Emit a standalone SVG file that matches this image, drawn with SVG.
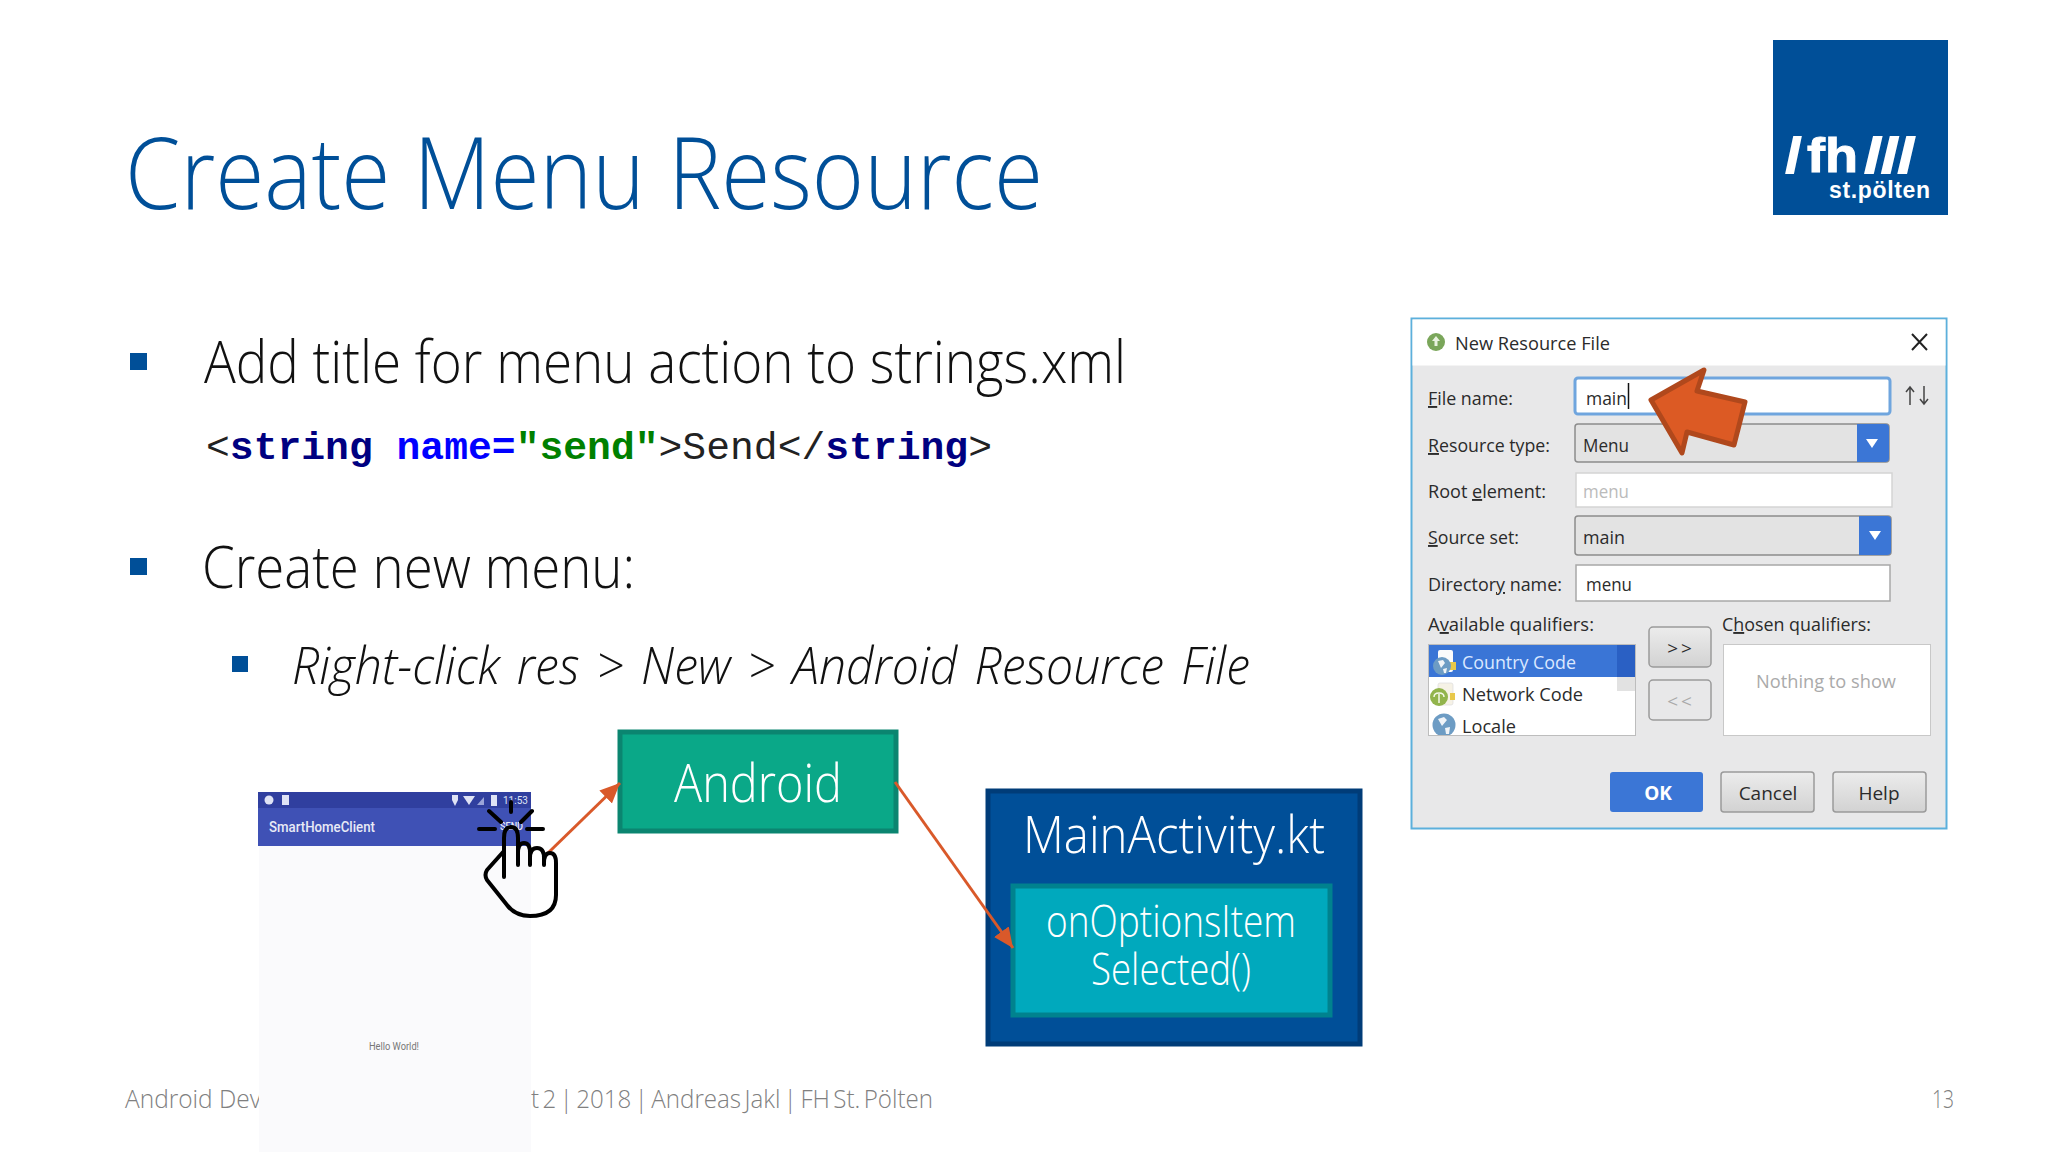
<svg xmlns="http://www.w3.org/2000/svg" width="2048" height="1152" viewBox="0 0 2048 1152">
<style>
.l{font-family:"Open Sans","Noto Sans",sans-serif;font-weight:300}
.d{font-family:"Open Sans","Noto Sans",sans-serif;font-size:19px;fill:#2b2b2b}
.bl{fill:#004f98}
.m{font-family:"Liberation Mono",monospace;font-size:39.7px}
.b{font-weight:700}
.u{text-decoration:underline}
.in{fill:#fff;stroke:#a8a8a8;stroke-width:1.5}
.cb{fill:#e3e3e3;stroke:#8c8c8c;stroke-width:1.5}
.bt{fill:url(#g);stroke:#9a9a9a;stroke-width:1.5}
.btn{fill:#3b76d6}
.conn{fill:none;stroke:#d9592a;stroke-width:3}
.hand{fill:none;stroke:#000;stroke-width:4;stroke-linecap:round;stroke-linejoin:round}
</style>
<defs>
<linearGradient id="g" x1="0" y1="0" x2="0" y2="1"><stop offset="0" stop-color="#ececec"/><stop offset="1" stop-color="#d2d2d2"/></linearGradient>
<marker id="arr" markerUnits="userSpaceOnUse" markerWidth="22" markerHeight="22" refX="20" refY="9" orient="auto"><path d="M0 0L20 9L0 18Z" fill="#d9592a"/></marker>
<clipPath id="lc"><rect x="1429" y="645" width="205" height="90"/></clipPath>
</defs>
<rect width="2048" height="1152" fill="#fff"/>
<text id="title" class="l" x="125" y="209" font-size="100" fill="#004f98" textLength="918" lengthAdjust="spacingAndGlyphs">Create Menu Resource</text>
<g id="logo">
<rect x="1773" y="40" width="175" height="175" class="bl"/>
<text x="1786" y="172" font-family="Liberation Sans,sans-serif" font-weight="700" font-size="48" fill="#fff" stroke="#fff" stroke-width="2" textLength="15" lengthAdjust="spacingAndGlyphs">/</text>
<text x="1807" y="172" font-family="Liberation Sans,sans-serif" font-weight="700" font-size="48" fill="#fff" stroke="#fff" stroke-width="1" textLength="51" lengthAdjust="spacingAndGlyphs">fh</text>
<text x="1865" y="172" font-family="Liberation Sans,sans-serif" font-weight="700" font-size="48" fill="#fff" stroke="#fff" stroke-width="2" textLength="50" lengthAdjust="spacingAndGlyphs">///</text>
<text x="1829" y="198" font-family="Liberation Sans,sans-serif" font-weight="700" font-size="23" fill="#fff" letter-spacing="1" textLength="102" lengthAdjust="spacing">st.pölten</text>
</g>
<g id="bullets">
<rect x="130" y="353" width="17" height="17" class="bl"/>
<text class="l" x="204" y="383" font-size="58" fill="#111" textLength="922" lengthAdjust="spacingAndGlyphs">Add title for menu action to strings.xml</text>
<text class="m" x="206" y="459" fill="#222">&lt;<tspan class="b" fill="#000080">string </tspan><tspan class="b" fill="#0000ff">name=</tspan><tspan class="b" fill="#008000">"send"</tspan>&gt;Send&lt;/<tspan class="b" fill="#000080">string</tspan>&gt;</text>
<rect x="130" y="558" width="17" height="17" class="bl"/>
<text class="l" x="202" y="588" font-size="58" fill="#111" textLength="433" lengthAdjust="spacingAndGlyphs">Create new menu:</text>
<rect x="232" y="656" width="16" height="16" class="bl"/>
<text class="l" x="292" y="684" font-size="52" font-style="italic" fill="#111" word-spacing="5" textLength="958" lengthAdjust="spacingAndGlyphs">Right-click res &gt; New &gt; Android Resource File</text>
</g>
<g id="footer">
<text class="l" x="125" y="1108" font-size="26" fill="#808080" textLength="136" lengthAdjust="spacingAndGlyphs">Android Dev</text>
<text class="l" x="531" y="1108" font-size="26" fill="#808080" word-spacing="-3" textLength="402" lengthAdjust="spacingAndGlyphs">t 2 | 2018 | Andreas Jakl | FH St. Pölten</text>
<text class="l" x="1932" y="1108" font-size="26" fill="#808080" textLength="22" lengthAdjust="spacingAndGlyphs">13</text>
</g>
<g id="phone">
<rect x="259" y="792" width="272" height="360" fill="#fafafc"/>
<rect x="258" y="808" width="273" height="38" fill="#3f51b5"/>
<rect x="258" y="792" width="273" height="16" fill="#303f9f"/>
<circle cx="269" cy="800" r="4.500" fill="#dfe3f5"/>
<rect x="282" y="795" width="7" height="10" fill="#dfe3f5"/>
<path d="M452 795h6v5l-3 6-3-6z" fill="#dfe3f5"/>
<path d="M463 796h12l-6 9z" fill="#dfe3f5"/>
<path d="M477 805l7-8v8z" fill="#9aa4d8"/>
<rect x="491" y="795" width="6" height="11" fill="#dfe3f5"/>
<text x="503" y="804" font-family="Roboto,sans-serif" font-size="10" fill="#dfe3f5">11:53</text>
<text x="269" y="832" font-family="Roboto,sans-serif" font-weight="500" font-size="14" fill="#e8eaf6" textLength="106" lengthAdjust="spacingAndGlyphs">SmartHomeClient</text>
<text x="500" y="830" font-family="Roboto,sans-serif" font-weight="500" font-size="10" fill="#e8eaf6" textLength="23" lengthAdjust="spacingAndGlyphs">SEND</text>
<text x="369" y="1050" font-family="Roboto,sans-serif" font-size="10" fill="#777" textLength="50" lengthAdjust="spacingAndGlyphs">Hello World!</text>
</g>
<g id="node-android">
<rect x="620" y="732" width="276" height="99" fill="#0aa888" stroke="#0b8570" stroke-width="5"/>
<text class="l" x="758" y="802" font-size="54" fill="#fff" text-anchor="middle" textLength="168" lengthAdjust="spacingAndGlyphs">Android</text>
</g>
<g id="node-mainactivity">
<rect x="988" y="791" width="372" height="253" fill="#004f98" stroke="#003c78" stroke-width="5"/>
<text class="l" x="1174" y="853" font-size="52" fill="#fff" text-anchor="middle" textLength="302" lengthAdjust="spacingAndGlyphs">MainActivity.kt</text>
</g>
<g id="node-onoptions">
<rect x="1013" y="886" width="317" height="129" fill="#00a9bd" stroke="#00828e" stroke-width="5"/>
<text class="l" x="1171" y="937" font-size="44" fill="#fff" text-anchor="middle" textLength="250" lengthAdjust="spacingAndGlyphs">onOptionsItem</text>
<text class="l" x="1171" y="985" font-size="44" fill="#fff" text-anchor="middle" textLength="160" lengthAdjust="spacingAndGlyphs">Selected()</text>
</g>
<g id="connectors">
<path class="conn" d="M548 853L620 783" marker-end="url(#arr)"/>
<path class="conn" d="M895 782L1013 948" marker-end="url(#arr)"/>
</g>
<g id="hand" class="hand">
<path d="M504 877V838Q504 827 511 827Q518 827 518 838V865M518 853Q518 843 524 843Q530 843 530 853V865M530 858Q530 848 537 848Q544 848 544 858V865M544 863Q544 853 550 853Q556 853 556 863V895Q556 916 530 916Q515 916 507 905L487 880Q484 875 487 870L504 851"/>
<path d="M511 802V812M479 829H495M527 829H543M489 811L501 822M532 811L521 822"/>
</g>
<g id="dialog">
<rect x="1411.500" y="318.500" width="535" height="510" fill="#e8e8e9" stroke="#5cb0dc" stroke-width="2"/>
<rect x="1412.500" y="319.500" width="533" height="46" fill="#fff"/>
<circle cx="1436" cy="342" r="9" fill="#7aa65a"/>
<path d="M1436 336l-4 5h2.500v5h3v-5h2.500z" fill="#e9f2df"/>
<text class="d" x="1455" y="350" textLength="155" lengthAdjust="spacingAndGlyphs">New Resource File</text>
<path d="M1912 334L1927 350M1927 334L1912 350" stroke="#222" stroke-width="2" fill="none"/>
<text class="d" x="1428" y="405" textLength="85" lengthAdjust="spacingAndGlyphs"><tspan class="u">F</tspan>ile name:</text>
<rect x="1575" y="378" width="315" height="36" rx="3" fill="#fff" stroke="#6fa5de" stroke-width="3"/>
<text class="d" x="1586" y="405" textLength="41" lengthAdjust="spacingAndGlyphs">main</text>
<path d="M1628.500 383V409" stroke="#111" stroke-width="1.500"/>
<path d="M1910 405V388M1906 392L1910 387L1914 392M1924 386V403M1920 399L1924 404L1928 399" stroke="#444" stroke-width="1.500" fill="none"/>
<text class="d" x="1428" y="452" textLength="122" lengthAdjust="spacingAndGlyphs"><tspan class="u">R</tspan>esource type:</text>
<rect x="1575" y="424" width="314" height="38" rx="3" class="cb"/>
<path d="M1857 424h28q4 0 4 4v30q0 4-4 4h-28z" class="btn"/>
<path d="M1866 439h12l-6 9z" fill="#fff"/>
<text class="d" x="1583" y="452" textLength="46" lengthAdjust="spacingAndGlyphs">Menu</text>
<text class="d" x="1428" y="498" textLength="118" lengthAdjust="spacingAndGlyphs">Root <tspan class="u">e</tspan>lement:</text>
<rect x="1576" y="473" width="316" height="34" fill="#fff" stroke="#d4d4d4" stroke-width="1.500"/>
<text class="d" x="1583" y="498" textLength="46" lengthAdjust="spacingAndGlyphs" style="fill:#bbb">menu</text>
<text class="d" x="1428" y="544" textLength="91" lengthAdjust="spacingAndGlyphs"><tspan class="u">S</tspan>ource set:</text>
<rect x="1575" y="516" width="316" height="39" rx="3" class="cb"/>
<path d="M1859 516h28q4 0 4 4v31q0 4-4 4h-28z" class="btn"/>
<path d="M1869 531h12l-6 9z" fill="#fff"/>
<text class="d" x="1583" y="544" textLength="42" lengthAdjust="spacingAndGlyphs">main</text>
<text class="d" x="1428" y="591" textLength="134" lengthAdjust="spacingAndGlyphs">Director<tspan class="u">y</tspan> name:</text>
<rect x="1576" y="565" width="314" height="36" class="in"/>
<text class="d" x="1586" y="591" textLength="46" lengthAdjust="spacingAndGlyphs">menu</text>
<text class="d" x="1428" y="631" textLength="166" lengthAdjust="spacingAndGlyphs">A<tspan class="u">v</tspan>ailable qualifiers:</text>
<text class="d" x="1722" y="631" textLength="149" lengthAdjust="spacingAndGlyphs">C<tspan class="u">h</tspan>osen qualifiers:</text>
<rect x="1428.500" y="644.500" width="207" height="91" fill="#fff" stroke="#bdbdbd"/>
<rect x="1429" y="645" width="188" height="32" fill="#3a75d6"/>
<rect x="1617" y="645" width="18" height="32" fill="#2a60c4"/>
<rect x="1617" y="677" width="18" height="14" fill="#e2e2e2"/>
<g clip-path="url(#lc)">
<rect x="1438" y="650" width="15" height="22" rx="2" fill="#fbfbfb"/>
<rect x="1450" y="662" width="6" height="8" fill="#e8c84a"/>
<circle cx="1442" cy="666" r="9" fill="#6d9cc4"/>
<path d="M1438 661l5-1 2 3-4 5zM1443 669l4-1-1 5-2 0z" fill="#f0f4f8"/>
<rect x="1438" y="683" width="15" height="22" rx="2" fill="#f6f2e6" stroke="#ddd" stroke-width=".7"/>
<rect x="1450" y="693" width="5" height="7" fill="#e8c84a"/>
<circle cx="1439" cy="697" r="9" fill="#92b44c"/>
<path d="M1439 694v9M1434 697q0-4 5-4t5 4" stroke="#f4f8e8" stroke-width="1.500" fill="none"/>
<circle cx="1444" cy="725" r="11.500" fill="#6d9cc4"/>
<path d="M1438 719l6-2 3 3-5 6zM1445 728l5-1-1 7-3 0z" fill="#f0f4f8"/>
</g>
<text class="d" x="1462" y="669" textLength="114" lengthAdjust="spacingAndGlyphs" style="fill:#dbe8ff">Country Code</text>
<text class="d" x="1462" y="701" textLength="121" lengthAdjust="spacingAndGlyphs">Network Code</text>
<text class="d" x="1462" y="733" textLength="54" lengthAdjust="spacingAndGlyphs">Locale</text>
<rect x="1649" y="627" width="62" height="40" rx="4" class="bt"/>
<text class="d" x="1681" y="655" text-anchor="middle" letter-spacing="3">&gt;&gt;</text>
<rect x="1649" y="680" width="62" height="40" rx="4" fill="#e8e8e9" stroke="#9a9a9a" stroke-width="1.500"/>
<text class="d" x="1681" y="708" text-anchor="middle" letter-spacing="3" style="fill:#aaa">&lt;&lt;</text>
<rect x="1723.500" y="644.500" width="207" height="91" fill="#fff" stroke="#c8c8c8"/>
<text class="d" x="1756" y="688" textLength="140" lengthAdjust="spacingAndGlyphs" style="fill:#aaa">Nothing to show</text>
<rect x="1610" y="772" width="93" height="40" rx="3" class="btn"/>
<text class="d b" x="1658" y="800" text-anchor="middle" style="fill:#fff">OK</text>
<rect x="1721" y="772" width="93" height="40" rx="3" class="bt"/>
<text class="d" x="1768" y="800" text-anchor="middle">Cancel</text>
<rect x="1833" y="772" width="93" height="40" rx="3" class="bt"/>
<text class="d" x="1879" y="800" text-anchor="middle">Help</text>
<path d="M1651 400L1704 370L1697 391L1745 402L1734 445L1687 432L1682 453Z" fill="#dc5a24" stroke="#b0481c" stroke-width="5" stroke-linejoin="round"/>
</g>
</svg>
